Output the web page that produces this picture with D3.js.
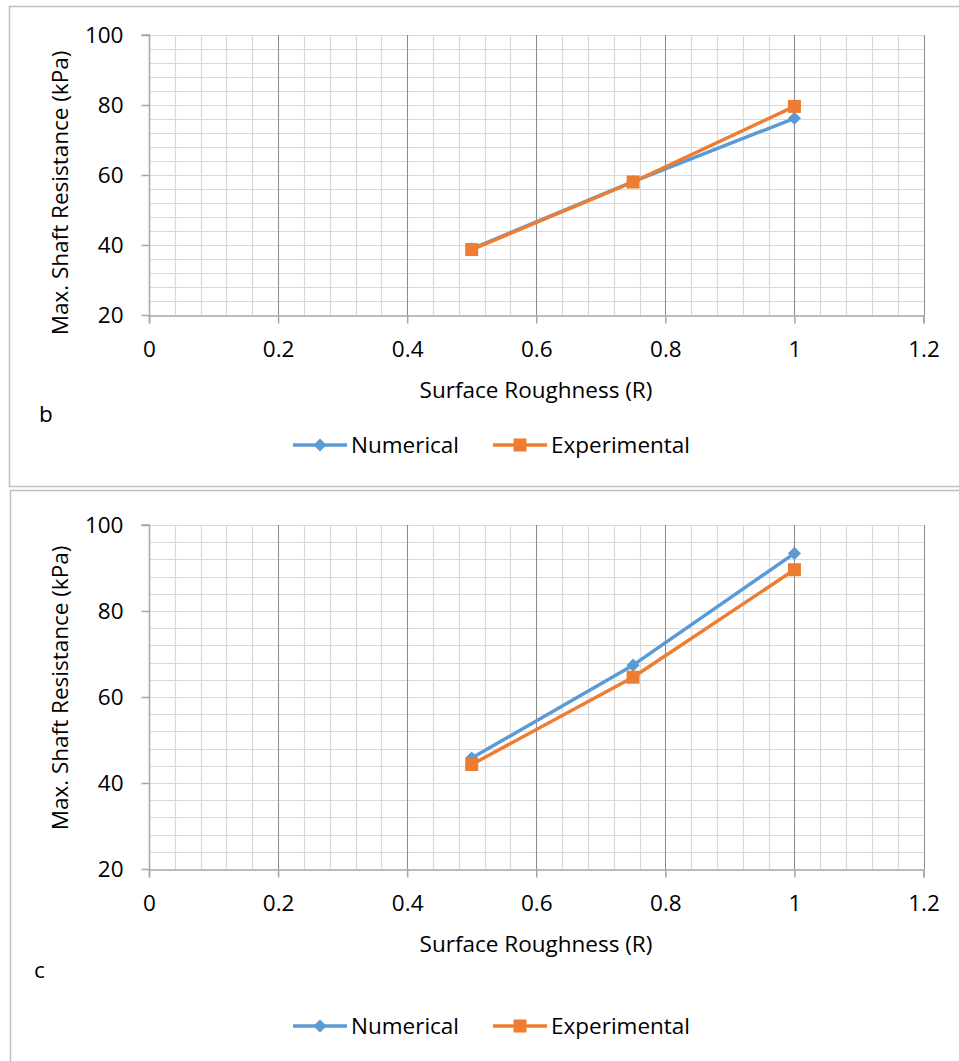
<!DOCTYPE html>
<html lang="en">
  <head>
    <script src="https://cdn.jsdelivr.net/npm/d3@7"></script>
    <style>
      body { margin: 0; background: #fff; }
      text { font-family: "Open Sans", sans-serif; fill: #000; }
    </style>
  </head>
  <body>
    <div id="chart"></div>
    <script>
      // values
      const roughness = [0.5, 0.75, 1]
      const numericalB = [38.9, 58.1, 76.2]
      const experimentalB = [38.7, 58.0, 79.6]
      const numericalC = [45.8, 67.4, 93.4]
      const experimentalC = [44.3, 64.6, 89.6]
      const xTicks = [0, 0.2, 0.4, 0.6, 0.8, 1, 1.2]
      const yTicks = [20, 40, 60, 80, 100]
      const seriesNames = ['Numerical', 'Experimental']

      const w = 959
      const h = 1061
      const blue = '#5B9BD5'
      const orange = '#ED7D31'
      const fs = '22.5px'

      const svg = d3.select('#chart')
        .append('svg')
        .attr('width', w)
        .attr('height', h)

      // panel frames
      svg.append('rect')
        .attr('x', 9.5).attr('y', 6.5)
        .attr('width', 960).attr('height', 480)
        .attr('fill', 'none').attr('stroke', '#BFBFBF').attr('stroke-width', 1.5)
      svg.append('rect')
        .attr('x', 10.5).attr('y', 490.5)
        .attr('width', 960).attr('height', 600)
        .attr('fill', 'none').attr('stroke', '#BFBFBF').attr('stroke-width', 1.5)

      drawPanel({ top: 35, bottom: 315, label: 'b', labelX: 39, labelY: 422,
                  titleY: 193, legendY: 445, num: numericalB, exp: experimentalB })
      drawPanel({ top: 525, bottom: 869, label: 'c', labelX: 34, labelY: 978,
                  titleY: 688, legendY: 1026, num: numericalC, exp: experimentalC })

      function drawPanel(p) {
        const g = svg.append('g')

        const x = d3.scaleLinear().domain([0, 1.2]).range([149, 923.5])
        const y = d3.scaleLinear().domain([20, 100]).range([p.bottom, p.top])

        // minor grid, every 0.04 across and every 4 kPa up
        const xMinor = d3.range(1, 31).map(function(i) { return i * 0.04 })
        const yMinor = d3.range(24, 101, 4)

        g.selectAll('line.hminor')
          .data(yMinor)
          .enter()
          .append('line')
          .attr('x1', x(0)).attr('x2', x(1.2))
          .attr('y1', function(d) { return Math.round(y(d)) + 0.5 })
          .attr('y2', function(d) { return Math.round(y(d)) + 0.5 })
          .attr('stroke', '#D9D9D9').attr('stroke-width', 1.2)

        g.selectAll('line.vminor')
          .data(xMinor)
          .enter()
          .append('line')
          .attr('y1', y(100)).attr('y2', y(20))
          .attr('x1', function(d) { return Math.round(x(d)) + 0.5 })
          .attr('x2', function(d) { return Math.round(x(d)) + 0.5 })
          .attr('stroke', '#D9D9D9').attr('stroke-width', 1.2)

        // major vertical grid
        g.selectAll('line.vmajor')
          .data(xTicks.slice(1))
          .enter()
          .append('line')
          .attr('y1', y(100)).attr('y2', y(20))
          .attr('x1', function(d) { return Math.round(x(d)) + 0.5 })
          .attr('x2', function(d) { return Math.round(x(d)) + 0.5 })
          .attr('stroke', '#8C8C8C').attr('stroke-width', 1)

        // axes
        const xAxis = d3.axisBottom(x).tickValues(xTicks).tickSize(8).tickPadding(18)
          .tickFormat(d3.format('~g'))
        const yAxis = d3.axisLeft(y).tickValues(yTicks).tickSize(8).tickPadding(18)

        g.append('g')
          .attr('transform', 'translate(0,' + (Math.round(p.bottom) + 0.5) + ')')
          .call(xAxis)
        const gy = g.append('g')
          .attr('transform', 'translate(' + (Math.round(x(0)) + 0.5) + ',0)')
          .call(yAxis)

        g.selectAll('.domain').attr('stroke', '#A6A6A6').attr('stroke-width', 1.5)
        g.selectAll('.tick line').attr('stroke', '#A6A6A6').attr('stroke-width', 1.5)
        g.selectAll('.tick text')
          .style('font-family', '"Open Sans", sans-serif')
          .style('font-size', fs)
          .attr('fill', '#000')
        gy.select('.domain').attr('d', 'M-8,' + y(100) + 'H0V' + y(20))

        // axis titles
        g.append('text')
          .attr('x', 536).attr('y', p.bottom + 83)
          .attr('text-anchor', 'middle')
          .style('font-size', fs)
          .text('Surface Roughness (R)')

        g.append('text')
          .attr('transform', 'translate(68,' + p.titleY + ') rotate(-90)')
          .attr('text-anchor', 'middle')
          .style('font-size', fs)
          .text('Max. Shaft Resistance (kPa)')

        g.append('text')
          .attr('x', p.labelX).attr('y', p.labelY)
          .style('font-size', fs)
          .text(p.label)

        // series
        const line = d3.line()
          .x(function(d) { return x(d[0]) })
          .y(function(d) { return y(d[1]) })

        const numData = d3.zip(roughness, p.num)
        const expData = d3.zip(roughness, p.exp)

        g.append('path').datum(numData)
          .attr('d', line).attr('fill', 'none')
          .attr('stroke', blue).attr('stroke-width', 3.5).attr('stroke-linejoin', 'round')
        g.selectAll('path.dia')
          .data(numData)
          .enter()
          .append('path')
          .attr('class', 'dia')
          .attr('d', d3.symbol(d3.symbolDiamond2, 110))
          .attr('transform', function(d) { return 'translate(' + x(d[0]) + ',' + y(d[1]) + ')' })
          .attr('fill', blue)

        g.append('path').datum(expData)
          .attr('d', line).attr('fill', 'none')
          .attr('stroke', orange).attr('stroke-width', 3.5).attr('stroke-linejoin', 'round')
        g.selectAll('rect.sq')
          .data(expData)
          .enter()
          .append('rect')
          .attr('class', 'sq')
          .attr('x', function(d) { return x(d[0]) - 6.5 })
          .attr('y', function(d) { return y(d[1]) - 6.5 })
          .attr('width', 13).attr('height', 13)
          .attr('fill', orange)

        // legend
        const leg = g.append('g').attr('transform', 'translate(0,' + p.legendY + ')')
        const legX = [293, 493]
        const colors = [blue, orange]
        seriesNames.forEach(function(name, i) {
          leg.append('line')
            .attr('x1', legX[i]).attr('x2', legX[i] + 54)
            .attr('y1', 0).attr('y2', 0)
            .attr('stroke', colors[i]).attr('stroke-width', 3.5)
          if (i === 0) {
            leg.append('path')
              .attr('d', d3.symbol(d3.symbolDiamond2, 110))
              .attr('transform', 'translate(' + (legX[i] + 27) + ',0)')
              .attr('fill', colors[i])
          } else {
            leg.append('rect')
              .attr('x', legX[i] + 20.5).attr('y', -6.5)
              .attr('width', 13).attr('height', 13)
              .attr('fill', colors[i])
          }
          leg.append('text')
            .attr('x', legX[i] + 58).attr('y', 0)
            .attr('dy', '0.35em')
            .style('font-size', fs)
            .text(name)
        })
      }
    </script>
  </body>
</html>
